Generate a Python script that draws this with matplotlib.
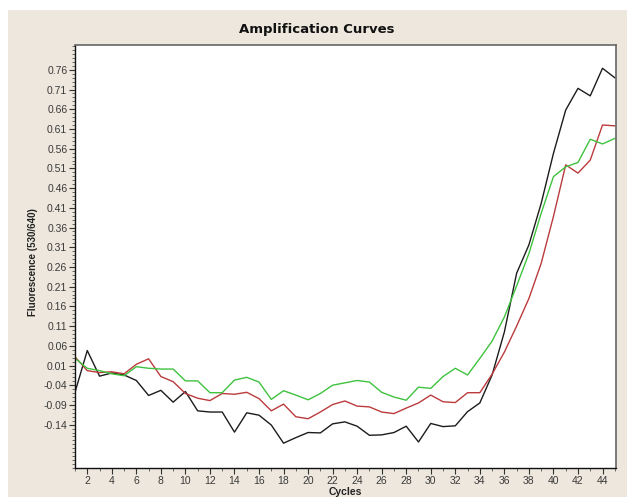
import numpy as np
import matplotlib
matplotlib.use('Agg')
import matplotlib.pyplot as plt
from matplotlib.ticker import MultipleLocator, FixedLocator, FormatStrFormatter

plt.rcParams['font.family'] = ['Liberation Sans', 'DejaVu Sans']

# Data (cycle vs fluorescence 530/640)
cycles = list(range(1, 46))

black = [-0.058, 0.048, -0.017, -0.009, -0.014, -0.028, -0.066, -0.053, -0.083, -0.056,
         -0.105, -0.108, -0.108, -0.159, -0.110, -0.116, -0.141, -0.187, -0.173, -0.160,
         -0.161, -0.138, -0.133, -0.144, -0.167, -0.166, -0.160, -0.144, -0.184, -0.137,
         -0.145, -0.143, -0.107, -0.085, -0.014, 0.095, 0.244, 0.316, 0.421, 0.548,
         0.658, 0.713, 0.694, 0.764, 0.740]

red = [0.032, -0.003, -0.008, -0.006, -0.011, 0.013, 0.027, -0.018, -0.031, -0.061,
       -0.073, -0.079, -0.061, -0.063, -0.058, -0.074, -0.105, -0.088, -0.120, -0.125,
       -0.108, -0.089, -0.080, -0.093, -0.095, -0.108, -0.112, -0.098, -0.085, -0.065,
       -0.082, -0.084, -0.059, -0.059, -0.012, 0.044, 0.110, 0.180, 0.269, 0.388,
       0.519, 0.498, 0.531, 0.620, 0.618]

green = [0.028, 0.003, -0.003, -0.011, -0.016, 0.007, 0.003, 0.001, 0.001, -0.029,
         -0.029, -0.059, -0.059, -0.027, -0.020, -0.032, -0.076, -0.054, -0.065, -0.077,
         -0.061, -0.040, -0.034, -0.028, -0.032, -0.058, -0.070, -0.078, -0.045, -0.048,
         -0.018, 0.003, -0.014, 0.028, 0.072, 0.133, 0.212, 0.294, 0.396, 0.489,
         0.514, 0.525, 0.584, 0.572, 0.586]

y_ticks = [round(-0.14 + 0.05 * i, 2) for i in range(19)]
x_ticks = list(range(2, 45, 2))

W, H = 627, 497
bg = '#ede7dd'

fig = plt.figure(figsize=(W / 100, H / 100), dpi=100, facecolor='white')
# beige panel with thin white strip on top and left, like the screenshot
fig.patches.append(plt.Rectangle((8 / W, 0), 1, 1 - 10 / H, transform=fig.transFigure,
                                 facecolor=bg, edgecolor='none', zorder=-10))

ax = fig.add_axes([75 / W, 29 / H, 541 / W, 423 / H])
ax.set_zorder(5)
ax.set_facecolor('white')

ax.plot(cycles, black, color='#1c1c1c', lw=1.0)
ax.plot(cycles, red, color='#bb3b3d', lw=1.0)
ax.plot(cycles, green, color='#3fc23f', lw=1.0)

ax.set_xlim(1, 45.1)
ax.set_ylim(-0.25, 0.823)

ax.xaxis.set_major_locator(FixedLocator(x_ticks))
ax.xaxis.set_minor_locator(MultipleLocator(1))
ax.yaxis.set_major_locator(FixedLocator(y_ticks))
ax.yaxis.set_minor_locator(MultipleLocator(0.01))
ax.yaxis.set_major_formatter(FormatStrFormatter('%.2f'))

ax.tick_params(which='major', direction='out', length=4, width=0.8, color='#333333',
               labelsize=7.5, labelcolor='#3a3a3a', pad=1.5)
ax.tick_params(which='minor', direction='out', length=2, width=0.6, color='#555555')

for side in ['left', 'bottom']:
    ax.spines[side].set_color('#111111')
    ax.spines[side].set_linewidth(1.0)
for side in ['top', 'right']:
    ax.spines[side].set_color('#666666')
    ax.spines[side].set_linewidth(1.2)

fig.text(317 / W, 1 - 30 / H, 'Amplification Curves', ha='center', va='center',
         fontsize=9.5, fontweight='heavy', family='DejaVu Sans', color='#111111')
fig.text(345 / W, 1 - 492 / H, 'Cycles', ha='center', va='center',
         fontsize=7.5, fontweight='bold', color='#222222')
fig.text(33 / W, 1 - 262 / H, 'Fluorescence (530/640)', ha='center', va='center',
         rotation=90, fontsize=7, fontweight='bold', color='#222222')

fig.savefig('out.png', dpi=100, facecolor=fig.get_facecolor())
